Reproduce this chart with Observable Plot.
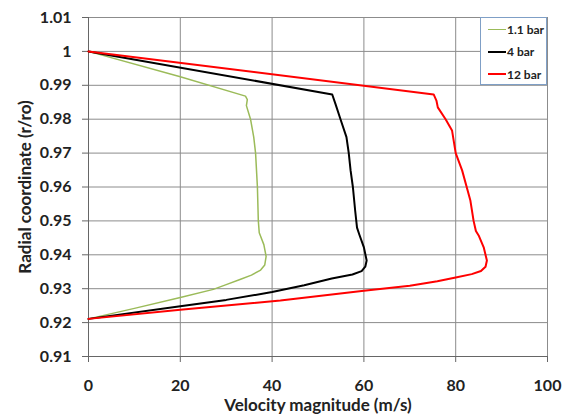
<!DOCTYPE html>
<html>
<head>
<meta charset="utf-8">
<script src="https://cdn.jsdelivr.net/npm/d3@7"></script>
<script src="https://cdn.jsdelivr.net/npm/@observablehq/plot@0.6"></script>
<style>
  html, body { margin: 0; padding: 0; background: #fff; }
  #wrap { position: relative; width: 571px; height: 414px; }
  #wrap svg [aria-label="x-axis label"], #wrap svg [aria-label="y-axis label"] { font-size: 17px; }
  #legend { position: absolute; left: 480px; top: 17px; width: 65px; height: 66px;
    border: 1.5px solid #7f9fc6; background: #fff; font-family: Lato, sans-serif; font-weight: bold; font-size: 12px; color: #222; }
  #legend .row { position: absolute; left: 7px; height: 14px; display: flex; align-items: center; }
  #legend .sw { width: 18px; height: 0; margin-right: 1px; }
</style>
</head>
<body>
<div id="wrap"></div>
<script>
// Series names and colours
const seriesNames = ["1.1 bar", "4 bar", "12 bar"];
const seriesColors = ["#9bbb59", "#000000", "#ff0000"];
const seriesWidths = [1.5, 2, 2];

// 1.1 bar: velocity (m/s) and radial coordinate (r/ro)
const v11 = [0, 20, 34.2, 34.6, 34.4, 35.3, 36.0, 36.4, 36.8, 37.0, 37.2, 38.2, 38.7, 38.4, 37.5, 35.5, 33.0, 30.0, 27.2, 20, 10, 0];
const r11 = [1.0, 0.9925, 0.9868, 0.9858, 0.9840, 0.9800, 0.9747, 0.9700, 0.9600, 0.9500, 0.9465, 0.9430, 0.9395, 0.9370, 0.9355, 0.9340, 0.9327, 0.9312, 0.9298, 0.9274, 0.9242, 0.9211];

// 4 bar
const v4 = [0, 53.1, 53.8, 54.9, 56.2, 56.7, 57.1, 57.6, 58.1, 58.5, 59.0, 60.0, 60.6, 60.3, 59.5, 57.5, 53.0, 47.0, 40.0, 30.0, 20, 0];
const r4 = [1.0, 0.9873, 0.9845, 0.9800, 0.9747, 0.9700, 0.9649, 0.9600, 0.9530, 0.9480, 0.9460, 0.9422, 0.9383, 0.9365, 0.9352, 0.9342, 0.9330, 0.9310, 0.9290, 0.9267, 0.9248, 0.9211];

// 12 bar
const v12 = [0, 75.2, 75.8, 76.1, 77.8, 79.2, 80.0, 81.4, 83.2, 83.9, 84.4, 85.0, 86.1, 86.8, 86.5, 85.5, 83.5, 80.0, 76.0, 70.0, 60, 41.8, 20, 0];
const r12 = [1.0, 0.9873, 0.9855, 0.9835, 0.9800, 0.9767, 0.9700, 0.9649, 0.9560, 0.9500, 0.9470, 0.9457, 0.9422, 0.9383, 0.9365, 0.9352, 0.9343, 0.9333, 0.9322, 0.9309, 0.9294, 0.9265, 0.9238, 0.9211];

// Tick labels
const xTicks = [0, 20, 40, 60, 80, 100];
const yTicks = [0.91, 0.92, 0.93, 0.94, 0.95, 0.96, 0.97, 0.98, 0.99, 1.00, 1.01];

const seriesV = [v11, v4, v12];
const seriesR = [r11, r4, r12];
const data = [];
seriesNames.forEach((name, s) => {
  seriesV[s].forEach((v, i) => data.push({series: name, v, r: seriesR[s][i]}));
});

const chart = Plot.plot({
  width: 571,
  height: 414,
  marginLeft: 88,
  marginRight: 24,
  marginTop: 17,
  marginBottom: 58,
  style: {fontFamily: "Lato, sans-serif", fontWeight: "bold", fontSize: "16px", color: "#222", background: "#fff"},
  x: {domain: [0, 100], ticks: xTicks},
  y: {domain: [0.91, 1.01], ticks: yTicks},
  color: {domain: seriesNames, range: seriesColors},
  marks: [
    Plot.gridX(xTicks, {stroke: "#8c8c8c", strokeOpacity: 1, strokeWidth: 1}),
    Plot.gridY(yTicks, {stroke: "#8c8c8c", strokeOpacity: 1, strokeWidth: 1}),
    Plot.axisX(xTicks, {tickSize: 6, tickPadding: 17, stroke: "#666", tickFormat: d => String(d),
      label: "Velocity magnitude (m/s)", labelAnchor: "center", labelArrow: "none", labelOffset: 54}),
    Plot.axisY(yTicks, {tickSize: 6, tickPadding: 11, stroke: "#666", tickFormat: d => String(+d.toFixed(2)),
      label: "Radial coordinate (r/ro)", labelAnchor: "center", labelArrow: "none", labelOffset: 70}),
    Plot.ruleX([0], {stroke: "#666"}),
    Plot.ruleY([0.91], {stroke: "#666"}),
    ...seriesNames.map((name, s) => Plot.line(data.filter(d => d.series === name), {
      x: "v", y: "r", stroke: seriesColors[s], strokeWidth: seriesWidths[s], curve: "linear", strokeLinejoin: "round"
    }))
  ]
});
const wrap = document.getElementById("wrap");
wrap.appendChild(chart);

const legend = document.createElement("div");
legend.id = "legend";
seriesNames.forEach((name, s) => {
  const row = document.createElement("div");
  row.className = "row";
  row.style.top = (4 + s * 22.5) + "px";
  const sw = document.createElement("span");
  sw.className = "sw";
  sw.style.borderTop = seriesWidths[s] + "px solid " + seriesColors[s];
  row.appendChild(sw);
  const t = document.createElement("span");
  t.textContent = name;
  row.appendChild(t);
  legend.appendChild(row);
});
wrap.appendChild(legend);
</script>
</body>
</html>
